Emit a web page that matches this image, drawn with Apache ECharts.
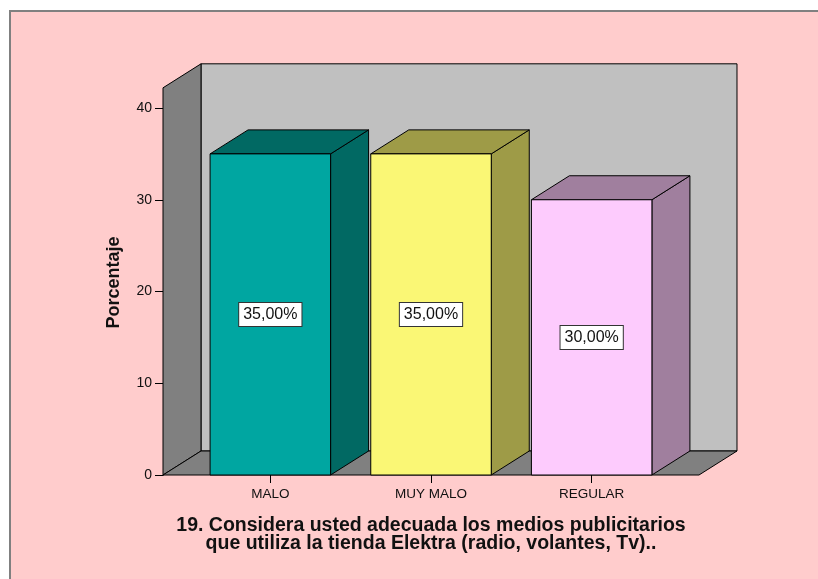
<!DOCTYPE html>
<html>
<head>
<meta charset="utf-8">
<title>Porcentaje</title>
<script src="https://cdn.jsdelivr.net/npm/echarts@6/dist/echarts.min.js"></script>
<style>
  html, body { margin: 0; padding: 0; background: #fff; }
  #main { width: 818px; height: 579px; }
</style>
</head>
<body>
<div id="main"></div>
<script>
// datos del grafico
const categories = ['MALO', 'MUY MALO', 'REGULAR'];
const percentages = [35, 35, 30];
const axisTitle = '19. Considera usted adecuada los medios publicitarios\nque utiliza la tienda Elektra (radio, volantes, Tv)..';

// estilo 3D
const frontColors = ['#00A6A1', '#FAF775', '#FDCBFD'];
const sideColors = ['#016963', '#9E9B47', '#A07F9E'];
const depth = [38, -24];
const wallTop = 42.2;
const wallPad = 0.168;
const font = "'Liberation Sans', Arial, sans-serif";

const myChart = echarts.init(document.getElementById('main'));

function fmt(v) {
    return v.toFixed(2).replace('.', ',') + '%';
}

const option = {
    backgroundColor: '#fff',
    animation: false,
    graphic: [{
        type: 'rect',
        z: -10,
        shape: { x: 10, y: 11, width: 830, height: 600 },
        style: { fill: '#FFCCCC', stroke: '#808080', lineWidth: 2 }
    }],
    grid: { left: 190, right: 146, top: 108, bottom: 104 },
    xAxis: {
        type: 'category',
        data: categories,
        axisLine: { show: false },
        axisTick: { show: true, alignWithLabel: true, length: 8, lineStyle: { color: '#000' } },
        axisLabel: { margin: 12, fontSize: 13.5, color: '#111', fontFamily: font },
        name: axisTitle,
        nameLocation: 'middle',
        nameGap: 42,
        nameTextStyle: { fontSize: 19.5, fontWeight: 'bold', color: '#111', lineHeight: 18, fontFamily: font }
    },
    yAxis: {
        type: 'value',
        min: 0,
        max: 40,
        interval: 10,
        offset: 27,
        splitLine: { show: false },
        axisLine: { show: true, lineStyle: { color: '#000' } },
        axisTick: { show: true, length: 8, lineStyle: { color: '#000' } },
        axisLabel: { margin: 11, fontSize: 14, color: '#111', fontFamily: font },
        name: 'Porcentaje',
        nameLocation: 'middle',
        nameGap: 40,
        nameTextStyle: { fontSize: 18, fontWeight: 'bold', color: '#111', fontFamily: font, padding: [0, 0, 0, 18] }
    },
    series: [{
        // paredes y piso
        type: 'custom',
        z: 1,
        silent: true,
        data: [[0, wallTop]],
        renderItem: function (params, api) {
            const bw = api.size([1, 0])[0];
            const first = api.coord([0, 0]);
            const last = api.coord([categories.length - 1, 0]);
            const yTop = api.coord([0, api.value(1)])[1];
            const y0 = first[1];
            const xl = first[0] - bw * (0.5 + wallPad);
            const xr = last[0] + bw * (0.5 + wallPad);
            const dx = depth[0], dy = depth[1];
            const line = { stroke: '#000', lineWidth: 1 };
            return {
                type: 'group',
                children: [{
                    type: 'rect',
                    shape: { x: xl + dx, y: yTop + dy, width: xr - xl, height: y0 - yTop },
                    style: Object.assign({ fill: '#C0C0C0' }, line)
                }, {
                    type: 'polygon',
                    shape: { points: [[xl, y0], [xl, yTop], [xl + dx, yTop + dy], [xl + dx, y0 + dy]] },
                    style: Object.assign({ fill: '#808080' }, line)
                }, {
                    type: 'polygon',
                    shape: { points: [[xl, y0], [xl + dx, y0 + dy], [xr + dx, y0 + dy], [xr, y0]] },
                    style: Object.assign({ fill: '#808080' }, line)
                }]
            };
        }
    }, {
        // barras 3D
        type: 'custom',
        z: 2,
        data: percentages.map(function (v, i) { return [i, v]; }),
        renderItem: function (params, api) {
            const i = api.value(0);
            const v = api.value(1);
            const top = api.coord([i, v]);
            const base = api.coord([i, 0]);
            const bw = api.size([1, 0])[0] * 0.75;
            const x = top[0] - bw / 2;
            const dx = depth[0], dy = depth[1];
            const line = { stroke: '#000', lineWidth: 1 };
            return {
                type: 'group',
                children: [{
                    type: 'polygon',
                    shape: { points: [[x + bw, top[1]], [x + bw + dx, top[1] + dy], [x + bw + dx, base[1] + dy], [x + bw, base[1]]] },
                    style: Object.assign({ fill: sideColors[i] }, line)
                }, {
                    type: 'polygon',
                    shape: { points: [[x, top[1]], [x + dx, top[1] + dy], [x + bw + dx, top[1] + dy], [x + bw, top[1]]] },
                    style: Object.assign({ fill: sideColors[i] }, line)
                }, {
                    type: 'rect',
                    shape: { x: x, y: top[1], width: bw, height: base[1] - top[1] },
                    style: Object.assign({ fill: frontColors[i] }, line)
                }, {
                    type: 'text',
                    x: top[0],
                    y: (top[1] + base[1]) / 2,
                    style: {
                        text: fmt(v),
                        align: 'center',
                        verticalAlign: 'middle',
                        font: '16px ' + font,
                        fill: '#111',
                        backgroundColor: '#fff',
                        borderColor: '#333',
                        borderWidth: 1,
                        padding: [4, 4, 3, 4]
                    }
                }]
            };
        }
    }]
};

myChart.setOption(option);
</script>
</body>
</html>
